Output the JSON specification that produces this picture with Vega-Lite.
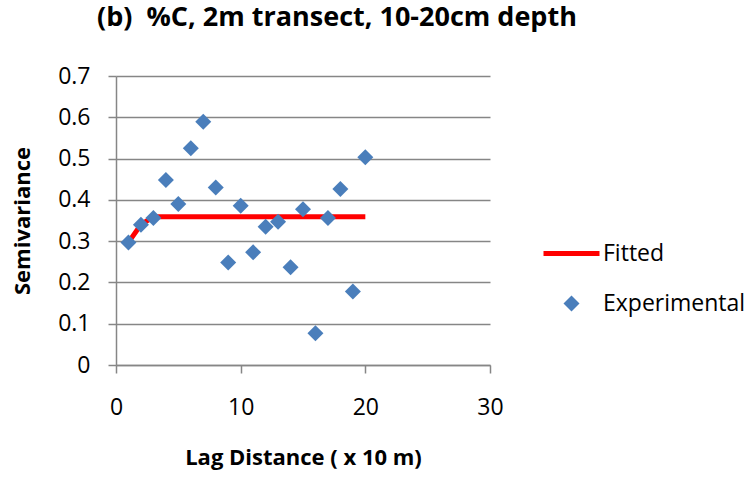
{
  "$schema": "https://vega.github.io/schema/vega-lite/v6.json",
  "autosize": "none",
  "width": 374,
  "height": 289,
  "padding": {"left": 116, "top": 76, "right": 259, "bottom": 112},
  "background": "white",
  "title": {
    "text": "(b)\u00a0 %C, 2m transect, 10-20cm depth",
    "font": "Open Sans",
    "fontSize": 27,
    "fontWeight": "bold",
    "color": "#000000",
    "anchor": "middle",
    "frame": "group",
    "dx": 34,
    "baseline": "alphabetic",
    "offset": 12
  },
  "config": {
    "view": {"stroke": null},
    "font": "Open Sans",
    "axis": {
      "labelFont": "Open Sans",
      "labelFontSize": 23,
      "labelColor": "#000000",
      "titleFont": "Open Sans",
      "titleFontSize": 22,
      "titleFontWeight": "bold",
      "titleColor": "#000000",
      "domainColor": "#868686",
      "domainWidth": 1.5,
      "tickColor": "#868686",
      "tickWidth": 1.5,
      "tickSize": 8,
      "gridColor": "#868686",
      "gridWidth": 1.5
    },
    "legend": {
      "title": null,
      "orient": "none",
      "legendX": 444,
      "legendY": 166,
      "padding": 0,
      "symbolSize": 256,
      "labelFont": "Open Sans",
      "labelFontSize": 23,
      "labelColor": "#000000",
      "labelOffset": 20,
      "labelLimit": 300,
      "rowPadding": 26
    }
  },
  "datasets": {
    "experimental": [
      {"lag": 1, "gamma": 0.297},
      {"lag": 2, "gamma": 0.340},
      {"lag": 3, "gamma": 0.356},
      {"lag": 4, "gamma": 0.448},
      {"lag": 5, "gamma": 0.390},
      {"lag": 6, "gamma": 0.525},
      {"lag": 7, "gamma": 0.589},
      {"lag": 8, "gamma": 0.430},
      {"lag": 9, "gamma": 0.248},
      {"lag": 10, "gamma": 0.386},
      {"lag": 11, "gamma": 0.273},
      {"lag": 12, "gamma": 0.335},
      {"lag": 13, "gamma": 0.347},
      {"lag": 14, "gamma": 0.237},
      {"lag": 15, "gamma": 0.377},
      {"lag": 16, "gamma": 0.077},
      {"lag": 17, "gamma": 0.356},
      {"lag": 18, "gamma": 0.426},
      {"lag": 19, "gamma": 0.178},
      {"lag": 20, "gamma": 0.503}
    ],
    "fitted": [
      {"lag": 1, "gamma": 0.297},
      {"lag": 2, "gamma": 0.340},
      {"lag": 3, "gamma": 0.359},
      {"lag": 4, "gamma": 0.359},
      {"lag": 5, "gamma": 0.359},
      {"lag": 6, "gamma": 0.359},
      {"lag": 7, "gamma": 0.359},
      {"lag": 8, "gamma": 0.359},
      {"lag": 9, "gamma": 0.359},
      {"lag": 10, "gamma": 0.359},
      {"lag": 11, "gamma": 0.359},
      {"lag": 12, "gamma": 0.359},
      {"lag": 13, "gamma": 0.359},
      {"lag": 14, "gamma": 0.359},
      {"lag": 15, "gamma": 0.359},
      {"lag": 16, "gamma": 0.359},
      {"lag": 17, "gamma": 0.359},
      {"lag": 18, "gamma": 0.359},
      {"lag": 19, "gamma": 0.359},
      {"lag": 20, "gamma": 0.359}
    ]
  },
  "encoding": {
    "x": {
      "field": "lag",
      "type": "quantitative",
      "scale": {"domain": [0, 30], "nice": false, "zero": false},
      "axis": {
        "title": "Lag Distance ( x 10 m)",
        "values": [0, 10, 20, 30],
        "grid": false,
        "labelPadding": 23,
        "titlePadding": 28,
        "labelFlush": false
      }
    },
    "y": {
      "field": "gamma",
      "type": "quantitative",
      "scale": {"domain": [0, 0.7], "nice": false},
      "axis": {
        "title": "Semivariance",
        "values": [0, 0.1, 0.2, 0.3, 0.4, 0.5, 0.6, 0.7],
        "format": "~g",
        "grid": true,
        "labelPadding": 18,
        "titlePadding": 23,
        "labelFlush": false
      }
    }
  },
  "layer": [
    {
      "data": {"name": "fitted"},
      "transform": [{"calculate": "'Fitted'", "as": "series"}],
      "mark": {"type": "line", "strokeWidth": 5, "interpolate": "linear"},
      "encoding": {
        "color": {
          "field": "series",
          "type": "nominal",
          "title": null,
          "scale": {"domain": ["Fitted", "Experimental"], "range": ["#FF0000", "#4A7EBB"]},
          "legend": {
            "values": ["Fitted", "Experimental"],
            "encode": {
              "symbols": {
                "update": {
                  "fill": {"signal": "datum.value === 'Fitted' ? '#FF0000' : '#4A7EBB'"},
                  "stroke": {"value": "transparent"},
                  "strokeWidth": {"value": 0},
                  "opacity": {"value": 1}
                }
              }
            }
          }
        }
      }
    },
    {
      "data": {"name": "experimental"},
      "transform": [{"calculate": "'Experimental'", "as": "series"}],
      "mark": {"type": "point", "filled": true, "opacity": 1, "size": 256},
      "encoding": {
        "color": {
          "field": "series",
          "type": "nominal",
          "title": null,
          "scale": {"domain": ["Fitted", "Experimental"], "range": ["#FF0000", "#4A7EBB"]},
          "legend": {
            "values": ["Fitted", "Experimental"],
            "encode": {
              "symbols": {
                "update": {
                  "fill": {"signal": "datum.value === 'Fitted' ? '#FF0000' : '#4A7EBB'"},
                  "stroke": {"value": "transparent"},
                  "strokeWidth": {"value": 0},
                  "opacity": {"value": 1}
                }
              }
            }
          }
        },
        "shape": {
          "field": "series",
          "type": "nominal",
          "title": null,
          "scale": {"domain": ["Fitted", "Experimental"], "range": ["M-3.5,-0.3H3.5V0.3H-3.5Z", "M0,-1L1,0L0,1L-1,0Z"]},
          "legend": {
            "values": ["Fitted", "Experimental"],
            "encode": {
              "symbols": {
                "update": {
                  "fill": {"signal": "datum.value === 'Fitted' ? '#FF0000' : '#4A7EBB'"},
                  "stroke": {"value": "transparent"},
                  "strokeWidth": {"value": 0},
                  "opacity": {"value": 1}
                }
              }
            }
          }
        }
      }
    }
  ]
}
